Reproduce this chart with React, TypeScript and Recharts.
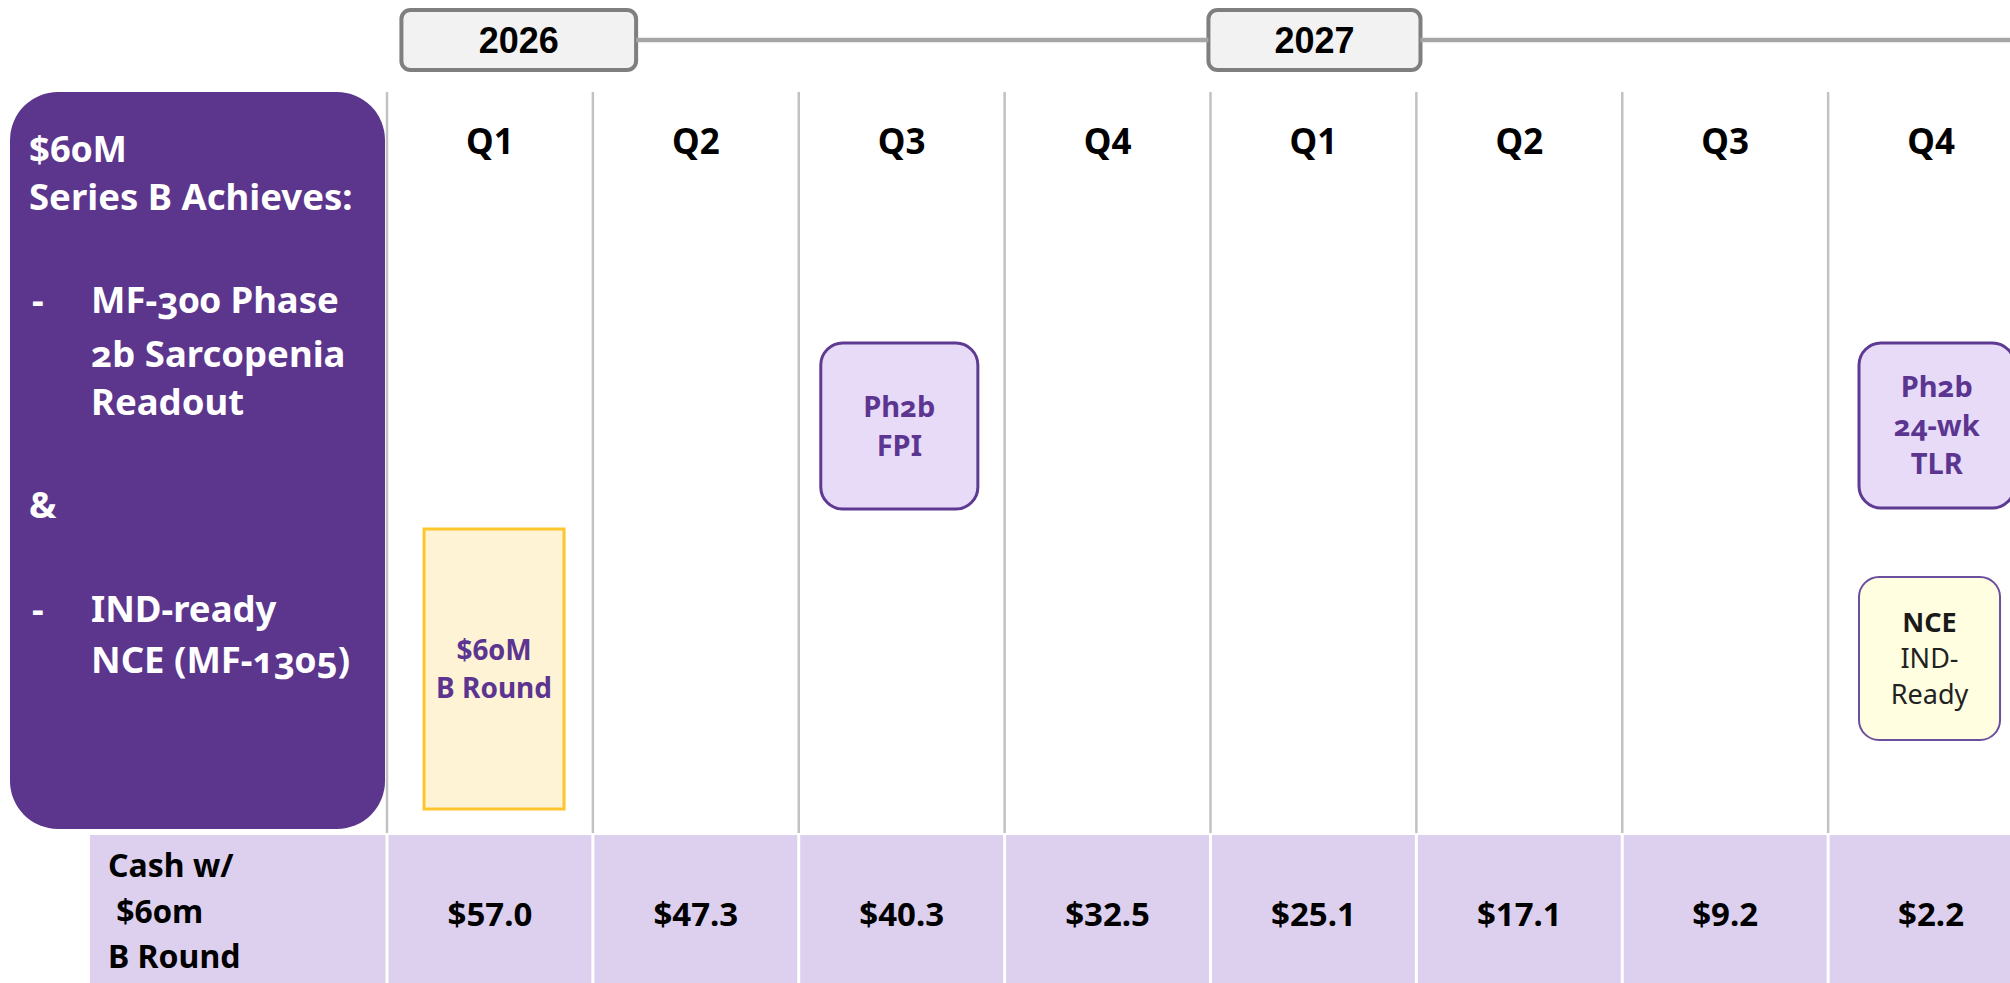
import React from 'react';
import { ComposedChart, ReferenceArea, ReferenceLine, XAxis, YAxis } from 'recharts';

// ---- data ----
const quarters = ['Q1', 'Q2', 'Q3', 'Q4', 'Q1', 'Q2', 'Q3', 'Q4'];
const years = ['2026', '2027'];
const cashWithBRound = [57.0, 47.3, 40.3, 32.5, 25.1, 17.1, 9.2, 2.2];
const cashRowLabel = ['Cash w/', ' $60m', 'B Round'];

const summaryLines = [
  { text: '$60M', bullet: false, indent: false },
  { text: 'Series B Achieves:', bullet: false, indent: false },
  { text: 'MF-300 Phase', bullet: true, indent: true },
  { text: '2b Sarcopenia', bullet: false, indent: true },
  { text: 'Readout', bullet: false, indent: true },
  { text: '&', bullet: false, indent: false },
  { text: 'IND-ready', bullet: true, indent: true },
  { text: 'NCE (MF-1305)', bullet: false, indent: true },
];

const milestoneQuarter = [0, 2, 7, 7];
const milestoneLabels = [
  ['$60M', 'B Round'],
  ['Ph2b', 'FPI'],
  ['Ph2b', '24-wk', 'TLR'],
  ['NCE', 'IND-', 'Ready'],
];
const milestoneKinds = ['funding', 'clinical', 'clinical', 'nce'];

// ---- layout (vertical axis is in px rows, 1 unit = 1px) ----
const W = 2034;
const H = 983;
const LEFT = 387;
const TOP_AXIS = 1;
const YEAR_BOX = { top: 10, bottom: 70, line: 40 };
const YEAR_SPAN: Record<string, [number, number]> = { '2026': [0.07, 1.21], '2027': [3.99, 5.02] };
const COLUMN_TOP = 92;
const COLUMN_BOTTOM = 833;
const Q_LABEL_Y = 141;
const CASH_TOP = 835;
const CASH_VALUE_Y = 914;
const CASH_LABEL_BASELINES = [877, 923, 968];
const SUMMARY_BASELINES = [162, 210, 313, 367, 415, 518, 622, 673];
const MILESTONE_BOX = [
  { from: 0.18, to: 0.86, top: 529, bottom: 809, lineGap: 38 },
  { from: 0.107, to: 0.87, top: 343, bottom: 509, lineGap: 39 },
  { from: 0.15, to: 0.905, top: 343, bottom: 508, lineGap: 38.5 },
  { from: 0.15, to: 0.835, top: 577, bottom: 740, lineGap: 36 },
];

const PURPLE = '#5c358d';
const LAVENDER = '#dcd0ee';
const SANS = '"Noto Sans", "Open Sans", sans-serif';
const ARIAL = '"Liberation Sans", Arial, sans-serif';
const OLDSTYLE = { fontVariantNumeric: 'oldstyle-nums', fontFeatureSettings: '"onum"' } as React.CSSProperties;

const KIND_STYLE: Record<string, any> = {
  funding: { fill: '#fff3d6', stroke: '#ffc52c', strokeWidth: 3, rx: 0, color: '#5b3590', size: 28 },
  clinical: { fill: '#e7dbf8', stroke: '#5e3a92', strokeWidth: 3, rx: 22, color: '#5b3590', size: 29 },
  nce: { fill: '#fffee0', stroke: '#6d4fa0', strokeWidth: 2, rx: 20, color: '#1a1a1a', size: 27 },
};

const columns = quarters.map((q, i) => ({ x: i + 0.5, quarter: q, cash: cashWithBRound[i] }));

function SummaryPanel(props: any) {
  const vb = props.viewBox || { x: 0, y: 0, width: LEFT };
  const x0 = vb.x;
  return (
    <g>
      <rect x={x0 + 10} y={COLUMN_TOP} width={vb.width - 12} height={829 - COLUMN_TOP} rx={48} fill={PURPLE} />
      {summaryLines.map((l, i) => (
        <g key={i}>
          {l.bullet && (
            <text x={x0 + 32} y={SUMMARY_BASELINES[i]} fill="#fff" fontFamily={SANS} fontWeight={700} fontSize={36.5}>
              -
            </text>
          )}
          <text
            x={x0 + (l.indent ? 91 : 29)}
            y={SUMMARY_BASELINES[i]}
            fill="#fff"
            fontFamily={SANS}
            fontWeight={700}
            fontSize={36.5}
            style={OLDSTYLE}
          >
            {l.text}
          </text>
        </g>
      ))}
      <rect x={x0 + 90} y={CASH_TOP} width={vb.width - 91.5} height={H - CASH_TOP} fill={LAVENDER} />
      {cashRowLabel.map((t, i) => (
        <text
          key={i}
          x={x0 + 108}
          y={CASH_LABEL_BASELINES[i]}
          fill="#000"
          fontFamily={SANS}
          fontWeight={700}
          fontSize={32}
          style={{ ...OLDSTYLE, whiteSpace: 'pre' }}
        >
          {t}
        </text>
      ))}
    </g>
  );
}

function QuarterTick(props: any) {
  const { x, payload } = props;
  const label = quarters[Math.floor(payload.value)];
  return (
    <text x={x} y={Q_LABEL_Y + 12.5} textAnchor="middle" fill="#000" fontFamily={SANS} fontWeight={700} fontSize={35}>
      {label}
    </text>
  );
}

function yearBox(label: string) {
  return (p: any) => (
    <g>
      <rect x={p.x} y={p.y} width={p.width} height={p.height} rx={9} fill="#f2f2f2" stroke="#7f7f7f" strokeWidth={4} />
      <text
        x={p.x + p.width / 2}
        y={p.y + p.height / 2 + 13}
        textAnchor="middle"
        fill="#000"
        fontFamily={ARIAL}
        fontWeight={700}
        fontSize={36}
      >
        {label}
      </text>
    </g>
  );
}

function cashCell(value: number) {
  return (p: any) => (
    <g>
      <rect x={p.x + 1.5} y={p.y} width={p.width - 3} height={p.height} fill={LAVENDER} />
      <text
        x={p.x + p.width / 2}
        y={CASH_VALUE_Y + 11.5}
        textAnchor="middle"
        fill="#000"
        fontFamily={SANS}
        fontWeight={700}
        fontSize={33}
      >
        {`$${value.toFixed(1)}`}
      </text>
    </g>
  );
}

function milestoneBox(i: number) {
  const st = KIND_STYLE[milestoneKinds[i]];
  const lines = milestoneLabels[i];
  const gap = MILESTONE_BOX[i].lineGap;
  return (p: any) => {
    const cx = p.x + p.width / 2;
    const cy = p.y + p.height / 2;
    return (
      <g>
        <rect
          x={p.x}
          y={p.y}
          width={p.width}
          height={p.height}
          rx={st.rx}
          fill={st.fill}
          stroke={st.stroke}
          strokeWidth={st.strokeWidth}
        />
        {lines.map((t, k) => {
          const isNce = milestoneKinds[i] === 'nce';
          const weight = isNce && k > 0 ? 400 : 700;
          return (
            <text
              key={k}
              x={cx}
              y={cy + (k - (lines.length - 1) / 2) * gap + st.size * 0.357}
              textAnchor="middle"
              fill={isNce && k > 0 ? '#222' : st.color}
              fontFamily={SANS}
              fontWeight={weight}
              fontSize={st.size}
              style={OLDSTYLE}
            >
              {t}
            </text>
          );
        })}
      </g>
    );
  };
}

export default function App() {
  const firstSpan = YEAR_SPAN[years[0]];
  const secondSpan = YEAR_SPAN[years[1]];
  return (
    <div style={{ position: 'absolute', left: 0, top: 0, width: 2010, height: H, overflow: 'hidden', background: '#fff' }}>
      <ComposedChart width={W} height={H} data={columns} margin={{ top: 0, right: 0, bottom: 0, left: 0 }}>
        <XAxis
          xAxisId="q"
          type="number"
          dataKey="x"
          domain={[0, quarters.length]}
          allowDataOverflow
          ticks={columns.map((c) => c.x)}
          orientation="top"
          height={TOP_AXIS}
          axisLine={false}
          tickLine={false}
          tick={<QuarterTick />}
          interval={0}
        />
        <YAxis
          yAxisId="row"
          type="number"
          domain={[TOP_AXIS, H]}
          allowDataOverflow
          reversed
          width={LEFT}
          tick={false}
          axisLine={false}
          tickLine={false}
          label={(props: any) => <SummaryPanel {...props} />}
        />

        {/* year timeline */}
        <ReferenceLine
          xAxisId="q"
          yAxisId="row"
          segment={[
            { x: firstSpan[1], y: YEAR_BOX.line },
            { x: secondSpan[0], y: YEAR_BOX.line },
          ]}
          stroke="#a6a6a6"
          strokeWidth={4.5}
        />
        <ReferenceLine
          xAxisId="q"
          yAxisId="row"
          segment={[
            { x: secondSpan[1], y: YEAR_BOX.line },
            { x: quarters.length, y: YEAR_BOX.line },
          ]}
          stroke="#a6a6a6"
          strokeWidth={4.5}
        />
        {years.map((y) => (
          <ReferenceArea
            key={y}
            xAxisId="q"
            yAxisId="row"
            x1={YEAR_SPAN[y][0]}
            x2={YEAR_SPAN[y][1]}
            y1={YEAR_BOX.top}
            y2={YEAR_BOX.bottom}
            shape={yearBox(y)}
          />
        ))}

        {/* quarter dividers */}
        {quarters.map((q, i) => (
          <ReferenceLine
            key={`div-${i}`}
            xAxisId="q"
            yAxisId="row"
            segment={[
              { x: i, y: COLUMN_TOP },
              { x: i, y: COLUMN_BOTTOM },
            ]}
            stroke="#c2c2c2"
            strokeWidth={2.5}
          />
        ))}

        {/* cash row */}
        {cashWithBRound.map((v, i) => (
          <ReferenceArea
            key={`cash-${i}`}
            xAxisId="q"
            yAxisId="row"
            x1={i}
            x2={i + 1}
            y1={CASH_TOP}
            y2={H}
            shape={cashCell(v)}
          />
        ))}

        {/* milestones */}
        {milestoneQuarter.map((q, i) => (
          <ReferenceArea
            key={`ms-${i}`}
            xAxisId="q"
            yAxisId="row"
            x1={q + MILESTONE_BOX[i].from}
            x2={q + MILESTONE_BOX[i].to}
            y1={MILESTONE_BOX[i].top}
            y2={MILESTONE_BOX[i].bottom}
            shape={milestoneBox(i)}
          />
        ))}
      </ComposedChart>
    </div>
  );
}
